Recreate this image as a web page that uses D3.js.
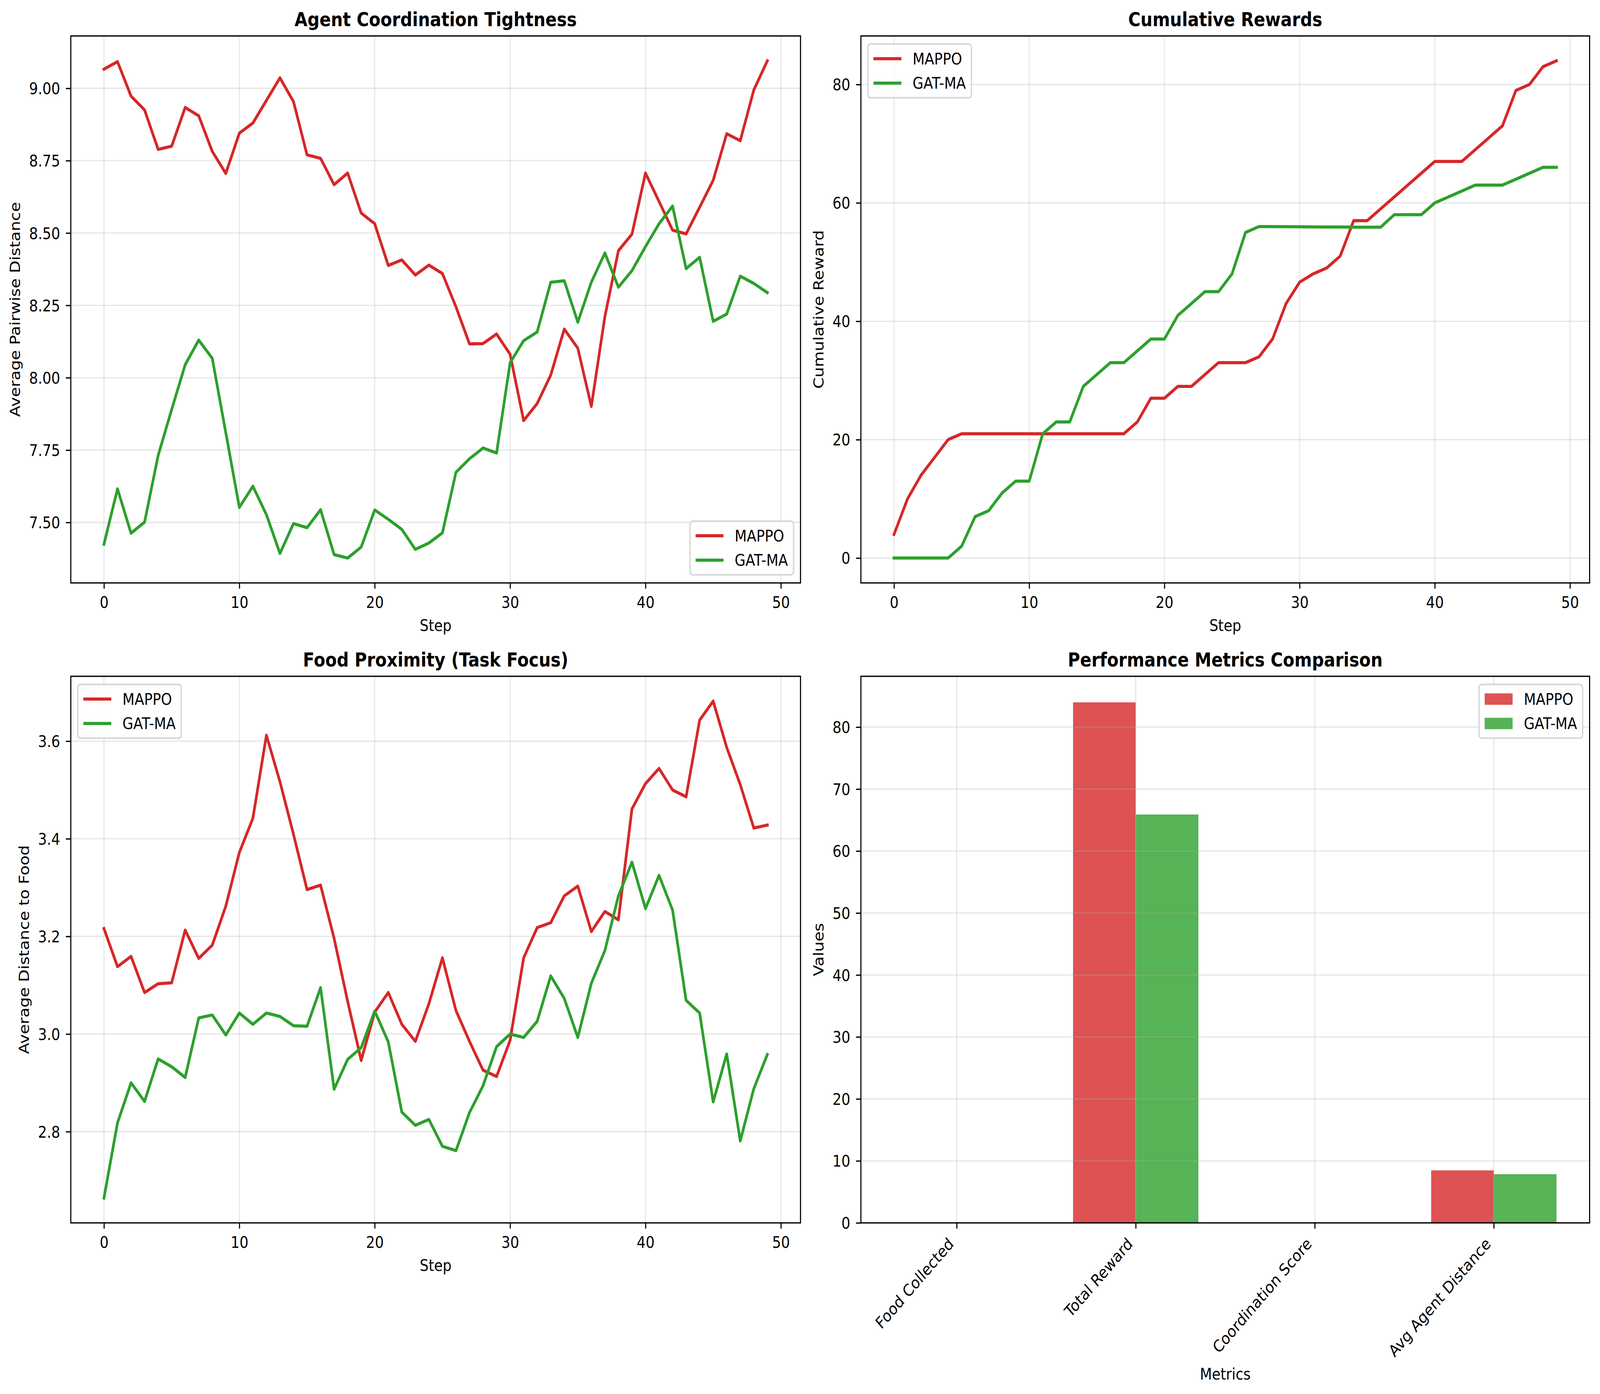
<!DOCTYPE html>
<html>
<head>
<meta charset="utf-8">
<script src="https://cdn.jsdelivr.net/npm/d3@7"></script>
<style>
  html, body { margin: 0; padding: 0; background: #fff; overflow: hidden; }
  svg { display: block; width: 100vw; height: 100vh; }
  text { font-family: "DejaVu Sans", sans-serif; }
</style>
</head>
<body>
<div id="wrapper"></div>
<script>
// step index, 0..49
const steps = d3.range(50)
const seriesNames = ['MAPPO', 'GAT-MA']

// Agent Coordination Tightness (average pairwise distance)
const distMappo = [9.066, 9.092, 8.973, 8.925, 8.789, 8.800, 8.934, 8.905, 8.782, 8.706,
  8.845, 8.880, 8.958, 9.036, 8.954, 8.770, 8.758, 8.667, 8.707, 8.569,
  8.532, 8.388, 8.407, 8.355, 8.389, 8.360, 8.245, 8.117, 8.118, 8.151,
  8.081, 7.852, 7.911, 8.009, 8.168, 8.102, 7.901, 8.211, 8.439, 8.496,
  8.707, 8.609, 8.510, 8.497, 8.589, 8.682, 8.843, 8.819, 8.994, 9.095]
const distGat = [7.425, 7.616, 7.463, 7.501, 7.731, 7.890, 8.045, 8.130, 8.067, 7.810,
  7.552, 7.625, 7.527, 7.393, 7.496, 7.482, 7.544, 7.389, 7.377, 7.415,
  7.543, 7.511, 7.476, 7.407, 7.429, 7.464, 7.673, 7.720, 7.757, 7.740,
  8.052, 8.128, 8.158, 8.330, 8.335, 8.192, 8.330, 8.431, 8.313, 8.370,
  8.453, 8.532, 8.593, 8.377, 8.416, 8.195, 8.220, 8.351, 8.326, 8.294]

// Cumulative Rewards
const rewardMappo = [4, 10, 14, 17, 20, 21, 21, 21, 21, 21,
  21, 21, 21, 21, 21, 21, 21, 21, 23, 27,
  27, 29, 29, 31, 33, 33, 33, 34, 37, 43,
  46.6, 48, 49, 51, 57, 57, 59, 61, 63, 65,
  67, 67, 67, 69, 71, 73, 79, 80, 83, 84]
const rewardGat = [0, 0, 0, 0, 0, 2, 7, 8, 11, 13,
  13, 21, 23, 23, 29, 31, 33, 33, 35, 37,
  37, 41, 43, 45, 45, 48, 55, 56, 56, 55.98,
  55.96, 55.95, 55.93, 55.92, 55.9, 55.9, 55.9, 58, 58, 58,
  60, 61, 62, 63, 63, 63, 64, 65, 66, 66]

// Food Proximity (average distance to food)
const foodMappo = [3.216, 3.138, 3.159, 3.085, 3.103, 3.105, 3.213, 3.155, 3.182, 3.262,
  3.372, 3.442, 3.612, 3.517, 3.409, 3.296, 3.305, 3.196, 3.067, 2.946,
  3.045, 3.085, 3.020, 2.985, 3.062, 3.156, 3.048, 2.985, 2.926, 2.913,
  2.987, 3.156, 3.218, 3.228, 3.283, 3.303, 3.210, 3.251, 3.234, 3.461,
  3.513, 3.544, 3.500, 3.486, 3.643, 3.682, 3.587, 3.511, 3.422, 3.428]
const foodGat = [2.664, 2.818, 2.900, 2.862, 2.949, 2.933, 2.911, 3.033, 3.039, 2.998,
  3.043, 3.020, 3.043, 3.036, 3.017, 3.016, 3.095, 2.887, 2.948, 2.972,
  3.047, 2.984, 2.840, 2.813, 2.825, 2.770, 2.761, 2.839, 2.894, 2.974,
  3.000, 2.993, 3.026, 3.119, 3.073, 2.993, 3.104, 3.171, 3.283, 3.352,
  3.257, 3.325, 3.254, 3.069, 3.043, 2.861, 2.959, 2.781, 2.888, 2.958]

// Performance Metrics Comparison
const metricNames = ['Food Collected', 'Total Reward', 'Coordination Score', 'Avg Agent Distance']
const metricsMappo = [0, 84, 0, 8.47]
const metricsGat = [0, 65.9, 0, 7.86]

const stepTicks = [0, 10, 20, 30, 40, 50]
const distTicks = [7.50, 7.75, 8.00, 8.25, 8.50, 8.75, 9.00]
const rewardTicks = [0, 20, 40, 60, 80]
const foodTicks = [2.8, 3.0, 3.2, 3.4, 3.6]
const valueTicks = [0, 10, 20, 30, 40, 50, 60, 70, 80]


const W = 4769
const H = 3568
const fs = 41.67
const colors = { 'MAPPO': '#d62728', 'GAT-MA': '#2ca02c' }

const boxes = {
  a: { x0: 211, x1: 2386, y0: 92, y1: 1492 },
  b: { x0: 2566, x1: 4738, y0: 92, y1: 1492 },
  c: { x0: 211, x1: 2386, y0: 1731, y1: 3130 },
  d: { x0: 2566, x1: 4738, y0: 1731, y1: 3130 },
}

// the browser window is narrower than the figure, so stretch to fill it
const svg = d3.select('#wrapper')
  .append('svg')
  .attr('viewBox', `0 0 ${W} ${H}`)
  .attr('preserveAspectRatio', 'none')

svg.append('rect').attr('width', W).attr('height', H).attr('fill', '#fff')

const padded = (lo, hi) => [lo - (hi - lo) * 0.05, hi + (hi - lo) * 0.05]

const drawGrid = (g, box, xScale, xTicks, yScale, yTicks) => {
  const grid = g.append('g')
  grid.selectAll('.gx').data(xTicks).enter().append('line')
    .attr('x1', d => xScale(d)).attr('x2', d => xScale(d))
    .attr('y1', box.y0).attr('y2', box.y1)
    .attr('stroke', '#b0b0b0').attr('stroke-opacity', 0.3).attr('stroke-width', 3.3)
  grid.selectAll('.gy').data(yTicks).enter().append('line')
    .attr('x1', box.x0).attr('x2', box.x1)
    .attr('y1', d => yScale(d)).attr('y2', d => yScale(d))
    .attr('stroke', '#b0b0b0').attr('stroke-opacity', 0.3).attr('stroke-width', 3.3)
}

const drawAxes = (g, box, xScale, xTicks, yScale, yTicks, yFormat, opts) => {
  // frame
  g.append('rect')
    .attr('x', box.x0).attr('y', box.y0)
    .attr('width', box.x1 - box.x0).attr('height', box.y1 - box.y0)
    .attr('fill', 'none').attr('stroke', '#000').attr('stroke-width', 3.3)

  const xAxis = g.append('g')
    .attr('transform', `translate(0, ${box.y1})`)
    .call(d3.axisBottom(xScale).tickValues(xTicks).tickSize(14.6).tickPadding(14.6)
      .tickFormat(opts.xFormat || (d => d)))
  xAxis.select('.domain').remove()
  xAxis.selectAll('line').attr('stroke-width', 3.3)
  xAxis.selectAll('text').attr('font-size', fs).attr('fill', '#000')
    .attr('font-family', '"DejaVu Sans", sans-serif')

  if (opts.rotate) {
    xAxis.selectAll('text')
      .attr('y', null).attr('dy', null)
      .attr('text-anchor', 'end')
      .attr('transform', `translate(-7, ${29.2 + 27}) rotate(-45)`)
  } else {
    xAxis.selectAll('text').attr('dy', '0.84em')
  }

  const yAxis = g.append('g')
    .attr('transform', `translate(${box.x0}, 0)`)
    .call(d3.axisLeft(yScale).tickValues(yTicks).tickSize(14.6).tickPadding(17).tickFormat(yFormat))
  yAxis.select('.domain').remove()
  yAxis.selectAll('line').attr('stroke-width', 3.3)
  yAxis.selectAll('text').attr('font-size', fs).attr('fill', '#000').attr('dy', '0.35em')
    .attr('font-family', '"DejaVu Sans", sans-serif')

  // title
  g.append('text')
    .attr('x', (box.x0 + box.x1) / 2)
    .attr('y', box.y0 - 25)
    .attr('text-anchor', 'middle')
    .attr('font-size', 50)
    .attr('font-weight', 'bold')
    .text(opts.title)

  // x label, below tick labels
  const xb = xAxis.node().getBBox()
  g.append('text')
    .attr('x', (box.x0 + box.x1) / 2)
    .attr('y', box.y1 + xb.y + xb.height + 16.7 + 32)
    .attr('text-anchor', 'middle')
    .attr('font-size', fs)
    .text(opts.xLabel)

  // y label, left of tick labels
  const yb = yAxis.node().getBBox()
  const lx = box.x0 + yb.x - 16.7 - 10
  g.append('text')
    .attr('transform', `translate(${lx}, ${(box.y0 + box.y1) / 2}) rotate(-90)`)
    .attr('text-anchor', 'middle')
    .attr('font-size', fs)
    .text(opts.yLabel)
}

const drawLegend = (g, box, loc, kind) => {
  const pad = 16.7, handle = 83.3, gap = 33.3, spacing = 20.8, offset = 20.8
  const leg = g.append('g')
  const frame = leg.append('rect')
  const labels = seriesNames.map((name, i) => leg.append('text')
    .attr('font-size', fs)
    .attr('dy', '0.35em')
    .text(name))
  const textW = d3.max(labels, t => t.node().getComputedTextLength())
  const w = pad * 2 + handle + gap + textW
  const h = pad * 2 + fs * 2 + spacing
  const x = loc.includes('right') ? box.x1 - offset - w : box.x0 + offset
  const y = loc.includes('lower') ? box.y1 - offset - h : box.y0 + offset

  frame.attr('x', x).attr('y', y).attr('width', w).attr('height', h)
    .attr('rx', 8.3).attr('ry', 8.3)
    .attr('fill', '#fff').attr('fill-opacity', 0.8)
    .attr('stroke', '#d6d6d6').attr('stroke-width', 4)

  seriesNames.forEach((name, i) => {
    const cy = y + pad + fs / 2 + i * (fs + spacing)
    if (kind === 'line') {
      leg.append('line')
        .attr('x1', x + pad).attr('x2', x + pad + handle)
        .attr('y1', cy).attr('y2', cy)
        .attr('stroke', colors[name]).attr('stroke-width', 8)
    } else {
      leg.append('rect')
        .attr('x', x + pad).attr('y', cy - fs * 0.35)
        .attr('width', handle).attr('height', fs * 0.7)
        .attr('fill', colors[name]).attr('fill-opacity', 0.8)
    }
    labels[i].attr('x', x + pad + handle + gap).attr('y', cy)
  })
}

const drawLinePanel = (box, mappo, gat, yTicks, yFormat, title, yLabel, legendLoc) => {
  const g = svg.append('g')
  const xScale = d3.scaleLinear().domain(padded(0, 49)).range([box.x0, box.x1])
  const all = mappo.concat(gat)
  const yScale = d3.scaleLinear().domain(padded(d3.min(all), d3.max(all))).range([box.y1, box.y0])

  drawGrid(g, box, xScale, stepTicks, yScale, yTicks)

  const line = d3.line().x((d, i) => xScale(steps[i])).y(d => yScale(d))
  ;[[mappo, 'MAPPO'], [gat, 'GAT-MA']].forEach(([vals, name]) => {
    g.append('path')
      .datum(vals)
      .attr('d', line)
      .attr('fill', 'none')
      .attr('stroke', colors[name])
      .attr('stroke-width', 8)
      .attr('stroke-linejoin', 'round')
      .attr('stroke-linecap', 'square')
  })

  drawAxes(g, box, xScale, stepTicks, yScale, yTicks, yFormat,
    { title: title, xLabel: 'Step', yLabel: yLabel })
  drawLegend(g, box, legendLoc, 'line')
}

drawLinePanel(boxes.a, distMappo, distGat, distTicks, d3.format('.2f'),
  'Agent Coordination Tightness', 'Average Pairwise Distance', 'lower right')
drawLinePanel(boxes.b, rewardMappo, rewardGat, rewardTicks, d3.format('d'),
  'Cumulative Rewards', 'Cumulative Reward', 'upper left')
drawLinePanel(boxes.c, foodMappo, foodGat, foodTicks, d3.format('.1f'),
  'Food Proximity (Task Focus)', 'Average Distance to Food', 'upper left')

// bar panel
const drawBars = box => {
  const g = svg.append('g')
  const barW = 0.35
  const idx = metricNames.map((d, i) => i)
  const xScale = d3.scaleLinear()
    .domain(padded(-barW, metricNames.length - 1 + barW))
    .range([box.x0, box.x1])
  const yScale = d3.scaleLinear()
    .domain([0, d3.max(metricsMappo.concat(metricsGat)) * 1.05])
    .range([box.y1, box.y0])

  ;[[metricsMappo, 'MAPPO', -barW], [metricsGat, 'GAT-MA', 0]].forEach(([vals, name, shift]) => {
    g.append('g').selectAll('rect')
      .data(vals)
      .enter().append('rect')
      .attr('x', (d, i) => xScale(i + shift))
      .attr('width', xScale(barW) - xScale(0))
      .attr('y', d => yScale(d))
      .attr('height', d => yScale(0) - yScale(d))
      .attr('fill', colors[name])
      .attr('fill-opacity', 0.8)
  })

  drawGrid(g, box, xScale, idx, yScale, valueTicks)

  drawAxes(g, box, xScale, idx, yScale, valueTicks, d3.format('d'), {
    title: 'Performance Metrics Comparison', xLabel: 'Metrics', yLabel: 'Values',
    rotate: true, xFormat: i => metricNames[i]
  })
  drawLegend(g, box, 'upper right', 'patch')
}

drawBars(boxes.d)
</script>
</body>
</html>
